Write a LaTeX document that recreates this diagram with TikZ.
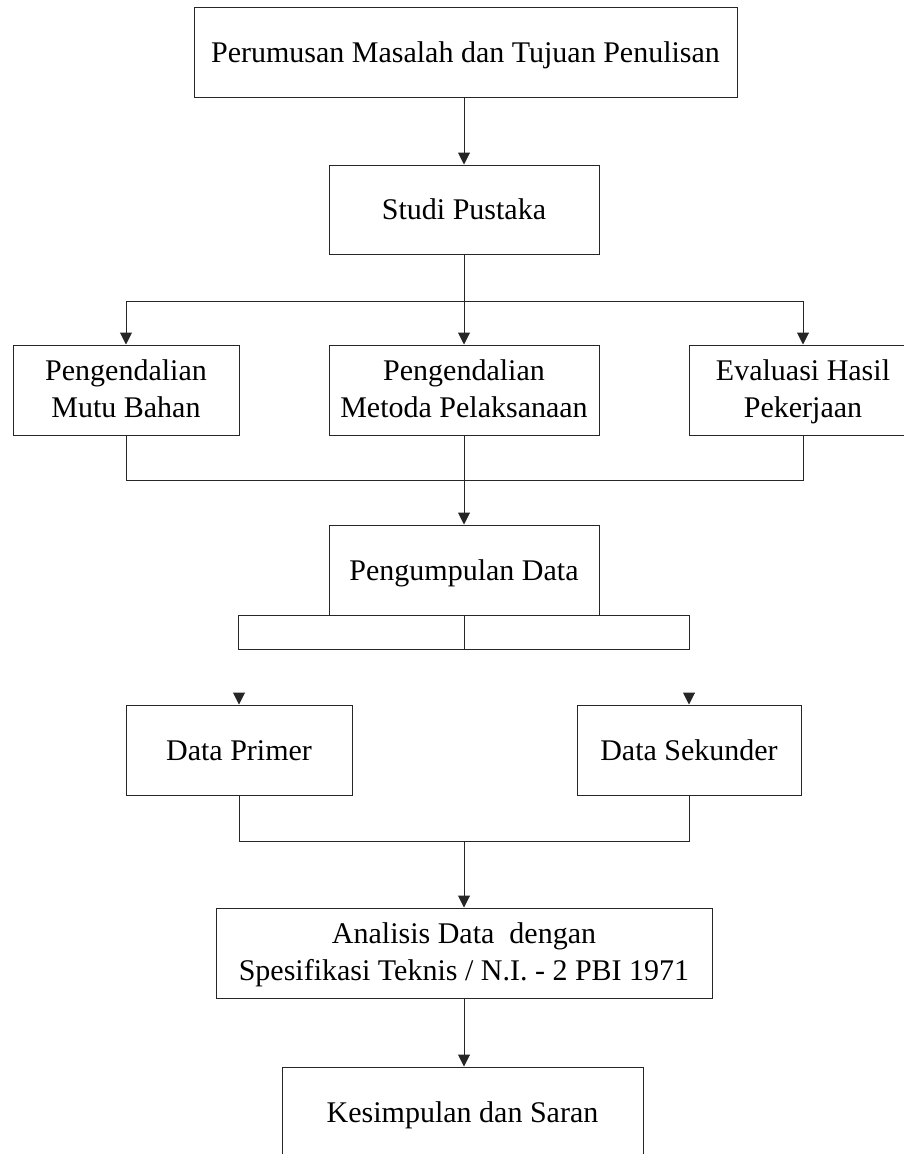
\documentclass[tikz,border=0pt]{standalone}
\usepackage{fontspec}
\setmainfont{Liberation Serif}
\usetikzlibrary{arrows.meta}
\begin{document}
\begin{tikzpicture}[x=1pt,y=-1pt,
  box/.style={draw=black!85, line width=1pt, rectangle, inner sep=0pt,
    align=center, font=\fontsize{30}{37}\selectfont, text height=20pt, text depth=0pt},
  box2/.style={box, text height=55pt, text depth=0pt},
  arr/.style={draw=black!85, line width=1pt, -{Triangle[length=12pt,width=12pt]}},
  ln/.style={draw=black!85, line width=1pt}]
\useasboundingbox (0,0) rectangle (904,1154);
\clip (0,0) rectangle (904,1154);
% boxes
\node[box, minimum width=543pt, minimum height=90pt] (top) at (465.5,52) {Perumusan Masalah dan Tujuan Penulisan};
\node[box, minimum width=270pt, minimum height=89pt] (studi) at (464,209.5) {Studi Pustaka};
\node[box2, minimum width=226pt, minimum height=90pt] (pmb) at (126,390) {Pengendalian\\Mutu Bahan};
\node[box2, minimum width=270pt, minimum height=90pt] (pmp) at (464,390) {Pengendalian\\Metoda Pelaksanaan};
\node[box2, minimum width=228pt, minimum height=90pt] (ehp) at (803,390) {Evaluasi Hasil\\Pekerjaan};
\node[box, minimum width=270pt, minimum height=90pt] (pd) at (464,570) {Pengumpulan Data};
\node[box, minimum width=226pt, minimum height=34pt] (barl) at (351,632) {};
\node[box, minimum width=225pt, minimum height=34pt] (barr) at (576.5,632) {};
\node[box, minimum width=226pt, minimum height=90pt] (dp) at (239,750) {Data Primer};
\node[box, minimum width=224pt, minimum height=90pt] (ds) at (689,750) {Data Sekunder};
\node[box2, minimum width=496pt, minimum height=90pt] (ad) at (464,953) {Analisis Data\ \ dengan\\Spesifikasi Teknis / N.I. - 2 PBI 1971};
\node[box, minimum width=361pt, minimum height=90pt] (ks) at (462.5,1112) {Kesimpulan dan Saran};
% connectors
\coordinate (h1) at (0,301);
\coordinate (h2) at (0,480);
\coordinate (h3) at (0,841);
\coordinate (dpa) at (239,693);
\coordinate (dsa) at (689,693);
\draw[arr] (studi.north |- top.south) -- (studi.north);
\draw[arr] (studi.south) -- (pmp.north);
\draw[arr] (studi.south |- h1) -| (pmb.north);
\draw[arr] (studi.south |- h1) -| (ehp.north);
\draw[ln] (pmb.south) |- (pmp.south |- h2);
\draw[ln] (ehp.south) |- (pmp.south |- h2);
\draw[arr] (pmp.south) -- (pd.north);
\draw[arr] (dpa) -- (dp.north);
\draw[arr] (dsa) -- (ds.north);
\draw[ln] (dp.south) |- (h3 -| ds.south) -- (ds.south);
\draw[arr] (ad.north |- h3) -- (ad.north);
\draw[arr] (ad.south) -- (ad.south |- ks.north);
\end{tikzpicture}
\end{document}
